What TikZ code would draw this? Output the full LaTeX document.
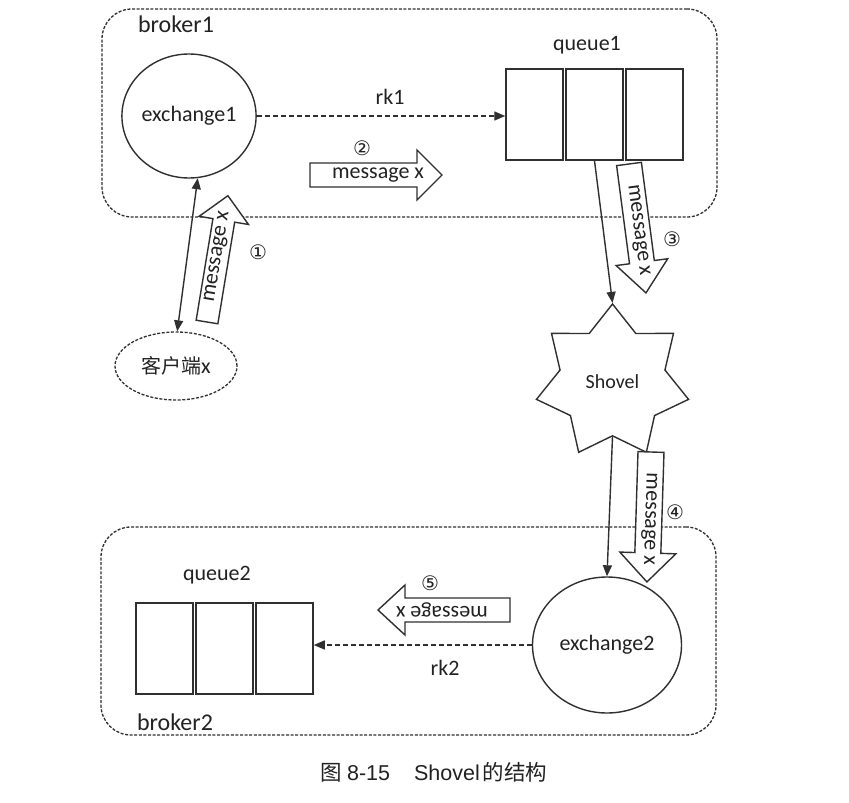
\documentclass[tikz,border=0pt]{standalone}
\usepackage{fontspec}
\setmainfont{Carlito}
\newfontfamily\cjk{Noto Sans CJK SC}
\newfontfamily\circfont{DejaVu Sans}
\newfontfamily\capfont{Liberation Sans}
\usetikzlibrary{shapes.geometric,arrows.meta,calc}
\definecolor{ink}{HTML}{303030}
\definecolor{txt}{HTML}{222222}
\tikzset{
  brokerbox/.style={draw=ink, line width=1.3pt, dash pattern=on 3pt off 1.6pt, rounded corners=30pt, inner sep=0pt},
  qbox/.style={draw=ink, line width=1.5pt, minimum width=57pt, minimum height=91pt, inner sep=0pt},
  exch/.style={ellipse, draw=ink, line width=1.4pt, inner sep=0pt, text=txt, font=\fontsize{22}{24}\selectfont},
  lbl/.style={text=txt, font=\fontsize{22}{24}\selectfont, inner sep=0pt},
  blbl/.style={text=txt, font=\fontsize{24}{26}\selectfont, inner sep=0pt},
  num/.style={text=txt, font=\circfont\fontsize{20}{22}\selectfont, inner sep=0pt},
  conn/.style={draw=ink, line width=1.4pt, -{Triangle[length=11pt,width=9pt]}},
  dconn/.style={draw=ink, line width=1.4pt, dash pattern=on 5pt off 3pt, -{Triangle[length=11pt,width=9pt]}},
  blkline/.style={draw=ink, line width=1.4pt, fill=white, line join=miter},
}
\newcommand{\blkarrow}[8]{%
  \begin{scope}[shift={#2}, rotate=#3]
    \draw[blkline] (0,#5) -- ({#4-#7},#5) -- ({#4-#7},#6) -- (#4,0) -- ({#4-#7},-#6) -- ({#4-#7},-#5) -- (0,-#5) -- cycle;
    \node[lbl, rotate=#3] (#1) at ({#4/2+2},0) {#8};
  \end{scope}}
\begin{document}
\begin{tikzpicture}[x=1pt, y=-1pt]
\useasboundingbox (0,0) rectangle (849,803);
\fill[white] (0,0) rectangle (849,803);

% broker boxes
\node[brokerbox, minimum width=615pt, minimum height=208pt] (b1) at (409.5,113) {};
\node[brokerbox, minimum width=615pt, minimum height=208pt] (b2) at (408.5,631) {};
\node[blbl] (b1lbl) at (176,24) {broker1};
\node[blbl] (b2lbl) at (175,722) {broker2};

% exchange1 and queue1
\node[exch, minimum width=128pt, minimum height=124pt] (ex1) at (189,116) {exchange1};
\node[qbox] (q1a) at (534.5,114.5) {};
\node[qbox] (q1b) at (594.5,114.5) {};
\node[qbox] (q1c) at (654.5,114.5) {};
\node[lbl] (q1lbl) at (587,45) {queue1};
\draw[dconn] (ex1.east) -- (ex1.east -| q1a.west);
\node[lbl] (rk1) at (390,97) {rk1};
\node[num] (n2) at (362,148) {②};
\blkarrow{m2}{(310,175)}{0}{132}{12}{25}{25}{message x}

% client
\node[ellipse, draw=ink, line width=1.3pt, dash pattern=on 3pt off 1.6pt, minimum width=122pt, minimum height=68pt, inner sep=0pt, text=txt] (client) at (176,366) {{\cjk\fontsize{20}{22}\selectfont 客户端}{\fontsize{22}{24}\selectfont x}};
\draw[conn, {Triangle[length=11pt,width=9pt]}-{Triangle[length=11pt,width=9pt]}] (ex1.-82) -- (client.88);
\blkarrow{m1}{(207,322)}{80.6}{128}{11}{25}{25}{message x}
\node[num] (n1) at (258,252) {①};

% shovel
\node[star, star points=7, star point ratio=1.45, minimum size=156pt, inner sep=0pt, draw=ink, line width=1.4pt, text=txt, font=\fontsize{20}{22}\selectfont] (shovel) at (612.5,382) {Shovel};
\draw[conn] (q1b.south) -- (shovel.north);
\blkarrow{m3}{(629,164)}{-82.5}{130}{12.5}{26}{31}{message x}
\node[num] (n3) at (672,239) {③};

% exchange2 and queue2
\node[exch, minimum width=149pt, minimum height=136pt] (ex2) at (607,645) {exchange2};
\draw[conn] (shovel.south) -- (ex2.north);
\blkarrow{m4}{(651,452)}{-91.8}{130}{13}{28}{29}{message x}
\node[num] (n4) at (675,512) {④};
\node[qbox] (q2a) at (164.5,648.5) {};
\node[qbox] (q2b) at (224.5,648.5) {};
\node[qbox] (q2c) at (284.5,648.5) {};
\node[lbl] (q2lbl) at (217,575) {queue2};
\draw[dconn] (ex2.west) -- (ex2.west -| q2c.east);
\node[lbl] (rk2) at (445,668) {rk2};
\blkarrow{m5}{(510,610)}{180}{132}{12}{25}{27}{message x}
\node[num] (n5) at (430,583) {⑤};

% caption
\node[text=txt, inner sep=0pt, font=\fontsize{21.5}{24}\selectfont] (cap) at (434,772) {{\cjk 图}\hspace{5pt}{\capfont 8-15}\hspace{24pt}{\capfont Shovel}\hspace{3pt}{\cjk 的结构}};
\end{tikzpicture}
\end{document}
